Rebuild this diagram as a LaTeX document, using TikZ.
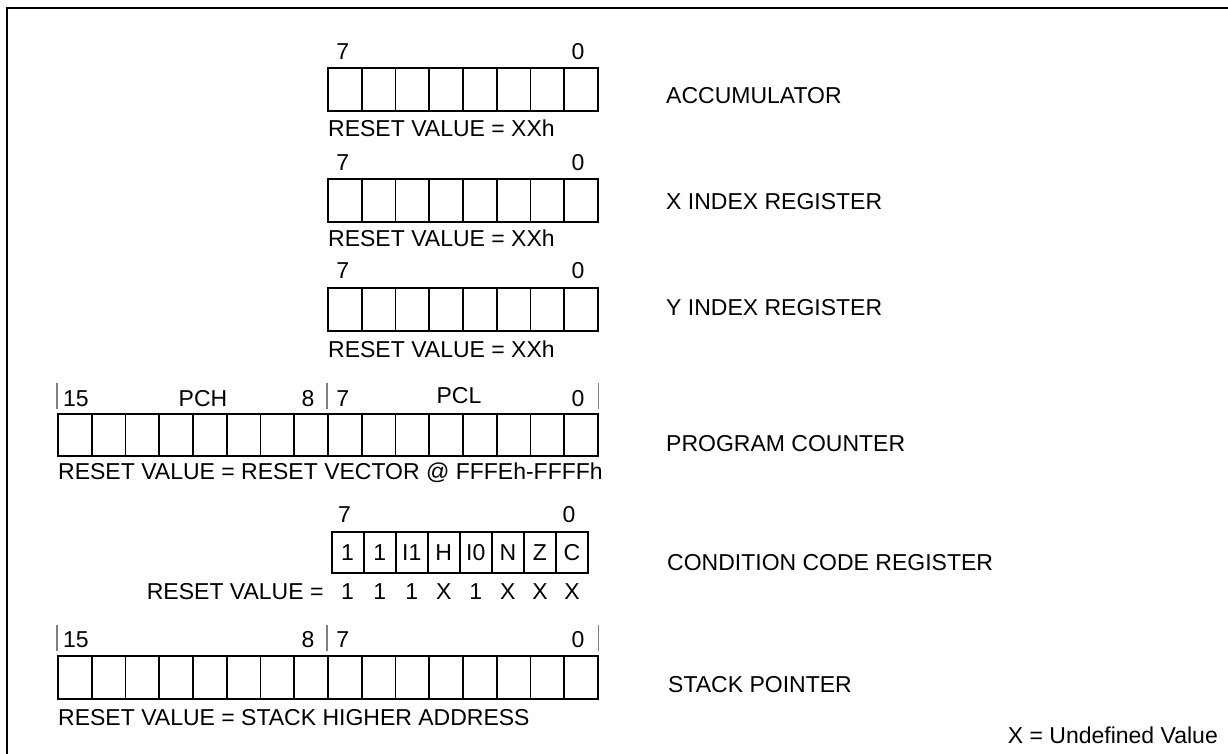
\documentclass[tikz,border=0pt]{standalone}
\usepackage{fontspec}
\setmainfont{Liberation Sans}
\usetikzlibrary{calc, positioning}

\tikzset{
    cell/.style={draw, line width=1.8pt, inner sep=0pt, anchor=north west,
        minimum width=33.75pt, minimum height=43pt},
    ccrcell/.style={cell, minimum width=32.05pt, minimum height=41pt},
    bitno/.style={inner sep=0pt},
    marker/.style={draw=gray, line width=1.2pt},
    regname/.style={anchor=west, inner sep=0pt},
    rstval/.style={anchor=west, inner sep=0pt},
}

\begin{document}
\begin{tikzpicture}[x=1pt, y=-1pt, font=\fontsize{23}{27}\selectfont]
        \useasboundingbox (0, 0) rectangle (1228, 754);
        \draw[line width=2pt] (1240, 8) -- (7, 8) -- (7, 770);

        % accumulator
        \foreach \i in {0,...,7}
            \node[cell] (acc\i) at (327+33.75*\i, 67) {};
        \node[bitno] (acchi) at ($(acc0.north)+(-2, -15)$) {7};
        \node[bitno] (acclo) at ($(acc7.north)+(-3, -15)$) {0};
        \node[rstval] (accrst) at ($(acc0.south west)+(1, 16)$) {RESET VALUE = XXh};
        \node[regname] (accname) at (666, 96) {ACCUMULATOR};

        % x index
        \foreach \i in {0,...,7}
            \node[cell] (xr\i) at (327+33.75*\i, 178) {};
        \node[bitno] (xrhi) at ($(xr0.north)+(-2, -15)$) {7};
        \node[bitno] (xrlo) at ($(xr7.north)+(-3, -15)$) {0};
        \node[rstval] (xrrst) at ($(xr0.south west)+(1, 15)$) {RESET VALUE = XXh};
        \node[regname] (xrname) at (666, 202) {X INDEX REGISTER};

        % y index
        \foreach \i in {0,...,7}
            \node[cell] (yr\i) at (327+33.75*\i, 287) {};
        \node[bitno] (yrhi) at ($(yr0.north)+(-2, -16)$) {7};
        \node[bitno] (yrlo) at ($(yr7.north)+(-3, -16)$) {0};
        \node[rstval] (yrrst) at ($(yr0.south west)+(1, 17)$) {RESET VALUE = XXh};
        \node[regname] (yrname) at (666, 308) {Y INDEX REGISTER};

        % program counter
        \foreach \i in {0,...,15}
            \node[cell, minimum height=42pt] (pc\i) at (57+33.75*\i, 413) {};
        \draw[marker] ($(pc0.north west)+(0, -4)$) -- ++(0, -26);
        \draw[marker] ($(pc8.north west)+(0, -4)$) -- ++(0, -26);
        \draw[marker] ($(pc15.north east)+(0, -4)$) -- ++(0, -26);
        \node[bitno] (pchi) at ($(pc0.north west)+(19, -14)$) {15};
        \node[bitno] (pch) at ($(pc4.north west)+(11, -14)$) {PCH};
        \node[bitno] (pcmid) at ($(pc7.north)+(-3, -14)$) {8};
        \node[bitno] (pcmidl) at ($(pc8.north)+(-2, -14)$) {7};
        \node[bitno] (pcl) at ($(pc12.north west)+(-3, -17)$) {PCL};
        \node[bitno] (pclo) at ($(pc15.north)+(-3, -14)$) {0};
        \node[rstval] (pcrst) at ($(pc0.south west)+(1, 16)$) {RESET VALUE = RESET VECTOR @ FFFEh-FFFFh};
        \node[regname] (pcname) at (666, 444) {PROGRAM COUNTER};

        % condition code register
        \foreach \i/\f/\v in {0/1/1, 1/1/1, 2/I1/1, 3/H/X, 4/I0/1, 5/N/X, 6/Z/X, 7/C/X} {
            \node[ccrcell] (ccr\i) at (330.7+32.05*\i, 531) {\f};
            \node[bitno] (ccrv\i) at ($(ccr\i.south)+(0, 18)$) {\v};
        }
        \node[bitno] (ccrhi) at ($(ccr0.north)+(-3, -16)$) {7};
        \node[bitno] (ccrlo) at ($(ccr7.north)+(-3, -16)$) {0};
        \node[bitno, anchor=east] (ccrrst) at ($(ccr0.south west)+(-7, 18)$) {RESET VALUE =};
        \node[regname] (ccrname) at (667, 563) {CONDITION CODE REGISTER};

        % stack pointer
        \foreach \i in {0,...,15}
            \node[cell] (sp\i) at (57+33.75*\i, 655) {};
        \draw[marker] ($(sp0.north west)+(0, -4)$) -- ++(0, -26);
        \draw[marker] ($(sp8.north west)+(0, -4)$) -- ++(0, -26);
        \draw[marker] ($(sp15.north east)+(0, -4)$) -- ++(0, -26);
        \node[bitno] (sphi) at ($(sp0.north west)+(19, -15)$) {15};
        \node[bitno] (spmid) at ($(sp7.north)+(-3, -15)$) {8};
        \node[bitno] (spmidl) at ($(sp8.north)+(-2, -15)$) {7};
        \node[bitno] (splo) at ($(sp15.north)+(-3, -15)$) {0};
        \node[rstval] (sprst) at ($(sp0.south west)+(1, 18)$) {RESET VALUE = STACK HIGHER ADDRESS};
        \node[regname] (spname) at (668, 685) {STACK POINTER};

        \node[bitno, anchor=east] (note) at (1218, 735) {X = Undefined Value};
\end{tikzpicture}
\end{document}
